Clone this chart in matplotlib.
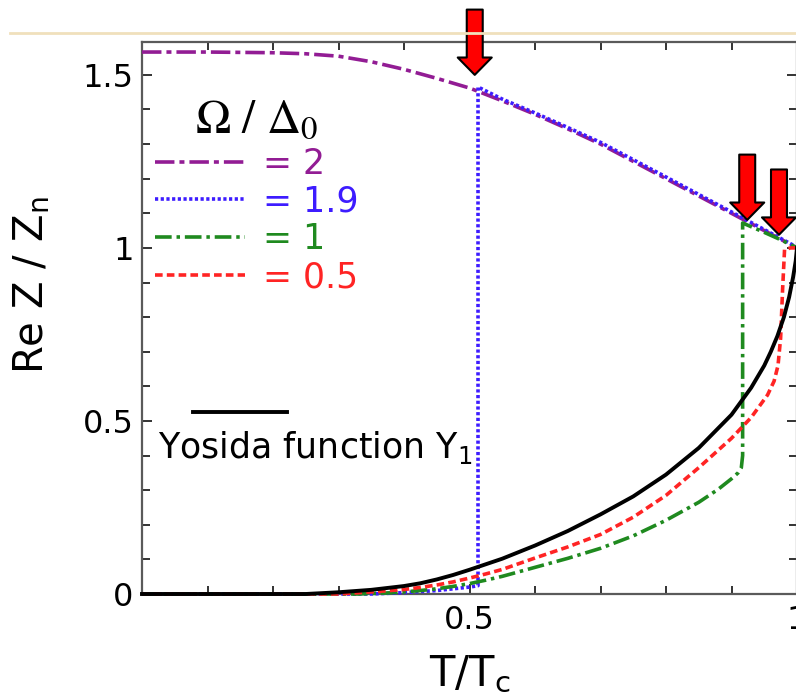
import matplotlib
matplotlib.use("Agg")
import matplotlib.pyplot as plt
from matplotlib.lines import Line2D
from matplotlib.ticker import MultipleLocator, FixedLocator

plt.rcParams['font.family'] = ['DejaVu Sans']
plt.rcParams['lines.scale_dashes'] = False

# ---------------- data ----------------
# Omega/Delta0 = 2
t_w2 = [0.0, 0.1, 0.2, 0.25, 0.3, 0.35, 0.4, 0.45, 0.5, 0.55, 0.6, 0.65, 0.7, 0.8, 0.85, 0.9, 0.95, 1.0]
z_w2 = [1.566, 1.566, 1.564, 1.561, 1.554, 1.538, 1.516, 1.490, 1.462, 1.425, 1.386, 1.344, 1.300, 1.200, 1.150, 1.100, 1.050, 1.000]
# Omega/Delta0 = 1.9
t_w19 = [0.0, 0.35, 0.4, 0.45, 0.5, 0.513, 0.513, 0.55, 0.6, 0.65, 0.7, 0.8, 0.9, 1.0]
z_w19 = [0.0, 0.0, 0.004, 0.010, 0.020, 0.024, 1.465, 1.430, 1.390, 1.348, 1.305, 1.205, 1.104, 1.002]
# Omega/Delta0 = 1
t_w1 = [0.0, 0.33, 0.375, 0.4, 0.425, 0.45, 0.475, 0.5, 0.525, 0.55, 0.6, 0.65, 0.7, 0.75, 0.8, 0.85, 0.88, 0.9, 0.91, 0.915, 0.917, 0.917, 0.95, 0.977, 1.0]
z_w1 = [0.0, 0.0, 0.003, 0.006, 0.010, 0.015, 0.022, 0.030, 0.040, 0.051, 0.077, 0.103, 0.132, 0.168, 0.213, 0.265, 0.303, 0.333, 0.350, 0.365, 0.400, 1.072, 1.045, 1.022, 1.000]
# Omega/Delta0 = 0.5
t_w05 = [0.0, 0.3, 0.35, 0.4, 0.425, 0.45, 0.475, 0.5, 0.525, 0.55, 0.6, 0.65, 0.7, 0.75, 0.8, 0.85, 0.9, 0.93, 0.955, 0.965, 0.971, 0.975, 0.978, 0.981, 0.99, 1.0]
z_w05 = [0.0, 0.0, 0.006, 0.013, 0.019, 0.026, 0.035, 0.046, 0.058, 0.071, 0.104, 0.136, 0.172, 0.222, 0.285, 0.365, 0.450, 0.510, 0.575, 0.615, 0.660, 0.740, 0.880, 0.995, 1.000, 1.000]
# Yosida function Y1
t_y = [0.0, 0.25, 0.3, 0.35, 0.4, 0.425, 0.45, 0.475, 0.5, 0.55, 0.6, 0.65, 0.7, 0.75, 0.8, 0.85, 0.9, 0.93, 0.95, 0.96, 0.97, 0.98, 0.988, 0.994, 0.998, 1.0]
z_y = [0.0, 0.0, 0.005, 0.012, 0.023, 0.031, 0.042, 0.055, 0.070, 0.102, 0.140, 0.182, 0.230, 0.282, 0.345, 0.422, 0.518, 0.596, 0.660, 0.700, 0.745, 0.800, 0.858, 0.915, 0.962, 1.000]

series_labels = ["= 2", "= 1.9", "= 1", "= 0.5"]
series_colors = ["#921c94", "#3d1cff", "#1f8a1f", "#ff2424"]

x_major = [0.5, 1.0]
x_major_labels = ["0.5", "1"]
y_major = [0, 0.5, 1, 1.5]
y_major_labels = ["0", "0.5", "1", "1.5"]

# arrow tips (T/Tc, Re Z/Zn) marking the jumps
arrow_t = [0.508, 0.924, 0.9725]
arrow_z = [1.50, 1.081, 1.038]

# ---------------- figure ----------------
W, H = 796, 699
fig = plt.figure(figsize=(W / 100, H / 100), dpi=100)
ax = fig.add_axes([142 / W, (H - 594) / H, 655 / W, 552 / H])
ax.set_xlim(0, 1)
ax.set_ylim(0, 1.595)

styles = [
    dict(dashes=(14, 3.6, 3.6, 3.6)),
    dict(dashes=(2.3, 1.8)),
    dict(dashes=(12, 3.5, 2.5, 3.5)),
    dict(dashes=(5.5, 3)),
]
data = [(t_w2, z_w2), (t_w19, z_w19), (t_w1, z_w1), (t_w05, z_w05)]
handles = []
for (t, z), c, st, lab in zip(data, series_colors, styles, series_labels):
    ln, = ax.plot(t, z, color=c, lw=2.6, solid_capstyle='butt', dash_capstyle='butt',
                  dash_joinstyle='round', clip_on=False, zorder=3, label=lab, **st)
    handles.append(ln)
ax.plot(t_y, z_y, color='black', lw=2.8, clip_on=False, zorder=4,
        solid_joinstyle='round')

# spines and ticks
for s in ax.spines.values():
    s.set_color('#5a5a5a')
    s.set_linewidth(1.6)
ax.xaxis.set_major_locator(FixedLocator(x_major))
ax.set_xticklabels(x_major_labels)
ax.xaxis.set_minor_locator(MultipleLocator(0.1))
ax.yaxis.set_major_locator(FixedLocator(y_major))
ax.set_yticklabels(y_major_labels)
ax.yaxis.set_minor_locator(MultipleLocator(0.1))
ax.tick_params(which='both', direction='in', top=True, right=True, width=1.4, color='#333333')
ax.tick_params(which='major', length=7)
ax.tick_params(which='minor', length=5.5)
ax.tick_params(axis='y', labelsize=23, pad=6)
ax.tick_params(axis='x', labelsize=23, pad=8)

ax.set_ylabel(r"Re Z / Z$_\mathrm{n}$", fontsize=29)
ax.yaxis.set_label_coords(-0.137, 0.56)
ax.set_xlabel(r"T/T$_\mathrm{c}$", fontsize=30, labelpad=12)

# legend
leg = ax.legend(handles=handles, loc='upper left',
                bbox_to_anchor=(13 / 655, (594 - 98) / 552),
                frameon=False, fontsize=25, handlelength=2.6, handletextpad=0.5,
                labelspacing=0.11, borderpad=0, borderaxespad=0,
                title=r"$\Omega\ /\ \Delta_0$", title_fontsize=34)
leg.get_title().set_math_fontfamily('stix')
for txt, c in zip(leg.get_texts(), series_colors):
    txt.set_color(c)

# Yosida annotation
ax.add_line(Line2D([(193 - 142) / 655, (287 - 142) / 655], [(594 - 412) / 552] * 2,
                   transform=ax.transAxes, color='black', lw=2.8))
ax.text(16 / 655, (594 - 448) / 552, r"Yosida function Y$_1$", transform=ax.transAxes,
        fontsize=25, va='center', ha='left')

# red arrows
for tx, tz in zip(arrow_t, arrow_z):
    ax.annotate('', xy=(tx, tz), xytext=(0, 47), textcoords='offset points',
                annotation_clip=False,
                arrowprops=dict(arrowstyle='simple,head_length=1.25,head_width=2.45,tail_width=1.15',
                                mutation_scale=10, fc='#ff0000', ec='black', lw=1.5,
                                shrinkA=0, shrinkB=0),
                zorder=10)

# decorative slide rule line
fig.add_artist(Line2D([10 / W, 1.0], [(H - 33) / H] * 2, transform=fig.transFigure,
                      color='#f0e0bc', lw=2))

fig.savefig('out.png', dpi=100)
